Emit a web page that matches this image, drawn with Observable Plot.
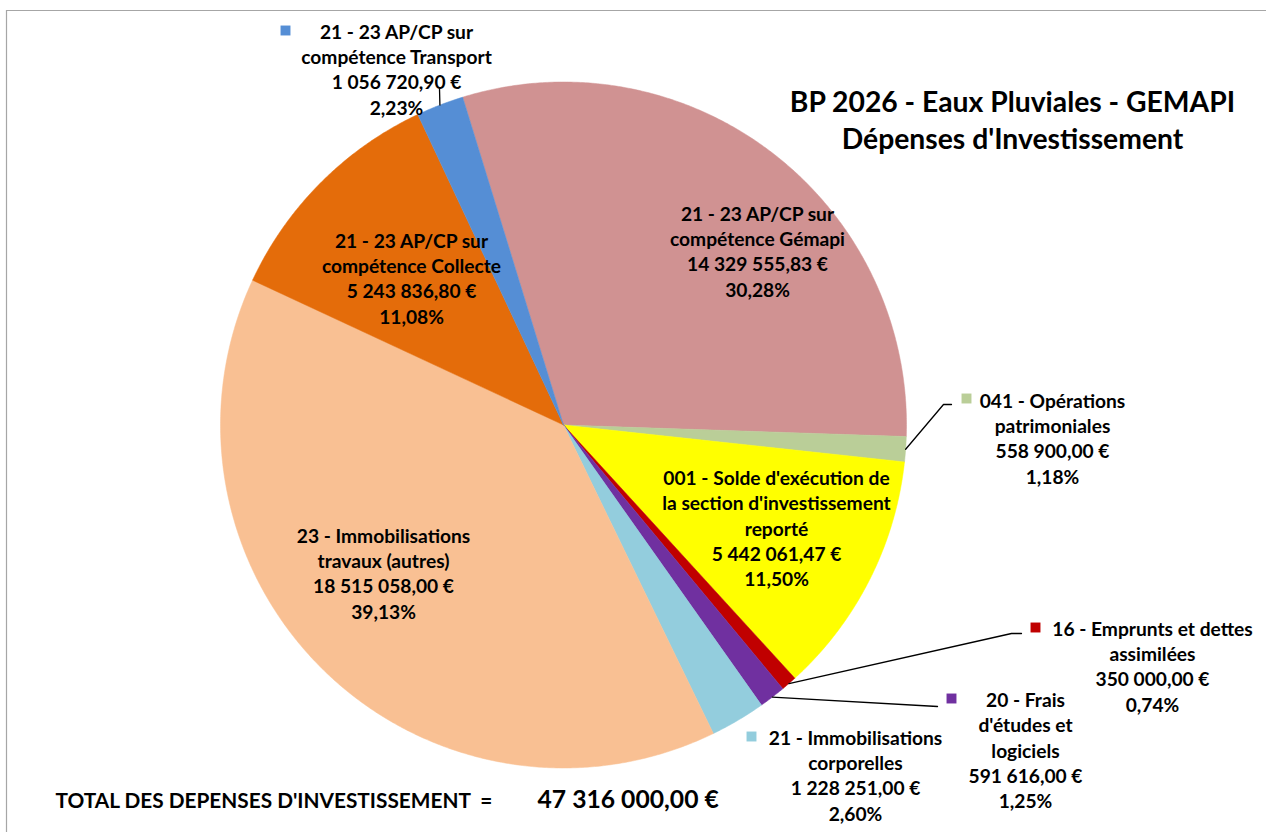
<!DOCTYPE html>
<html><head><meta charset="utf-8">
<script src="https://cdn.jsdelivr.net/npm/d3@7"></script>
<script src="https://cdn.jsdelivr.net/npm/@observablehq/plot@0.6"></script>
<style>body{margin:0;background:#fff} #chart svg{display:block}</style>
</head><body><div id="chart"></div>
<script>
// ---- data ----
const categories = ["gemapi","041","001","16","20","21","23","collecte","transport"];
const nameLines = [
  ["21 - 23 AP/CP sur","compétence Gémapi"],
  ["041 - Opérations","patrimoniales"],
  ["001 - Solde d'exécution de","la section d'investissement","reporté"],
  ["16 - Emprunts et dettes","assimilées"],
  ["20 - Frais","d'études et","logiciels"],
  ["21 - Immobilisations","corporelles"],
  ["23 - Immobilisations","travaux (autres)"],
  ["21 - 23 AP/CP sur","compétence Collecte"],
  ["21 - 23 AP/CP sur","compétence Transport"]
];
const values = [14329555.83, 558900.00, 5442061.47, 350000.00, 591616.00, 1228251.00, 18515058.00, 5243836.80, 1056720.90];
const colors = ["#D09292","#BACE98","#FFFF00","#C00000","#7030A0","#93CDDD","#F9C093","#E46C0A","#558ED5"];
const titleLines = ["BP 2026 - Eaux Pluviales - GEMAPI","Dépenses d'Investissement"];
const totalLabel = "TOTAL DES DEPENSES D'INVESTISSEMENT \u00a0=";

// ---- layout (positions kept separate from data) ----
const pie = {cx: 563, cy: 424.5, r: 343, startDeg: -17.1};
const labelLayout = [
  {cat:"gemapi", x:757, y:250},
  {cat:"041", x:1052, y:437, key:[966,398], leader:[[943,404],[951,404]]},
  {cat:"001", x:776, y:527},
  {cat:"16", x:1152, y:665, key:[1035,627], leader:[[1011,633],[1021,633]]},
  {cat:"20", x:1025, y:749, key:[951,698], leader:[[937,706]]},
  {cat:"21", x:855, y:774, key:[751,736]},
  {cat:"23", x:383, y:572},
  {cat:"collecte", x:411, y:277},
  {cat:"transport", x:396, y:68, key:[285,30], leader:[[439,88]]}
];

// ---- derived ----
const total = d3.sum(values);
const fr = d3.formatLocale({decimal:",", thousands:" ", grouping:[3], currency:["","\u00a0€"]});
const fmtMoney = fr.format("$,.2f");
const fmtPct = fr.format(".2f");
const rad = Math.PI/180;
const arcs = d3.pie().sort(null).startAngle(pie.startDeg*rad).endAngle(pie.startDeg*rad + 2*Math.PI)(values);
const px = a => pie.cx + pie.r*Math.sin(a);
const py = a => pie.cy - pie.r*Math.cos(a);

const slicePts = [];
arcs.forEach((a, i) => {
  const cat = categories[i];
  slicePts.push({cat, x: pie.cx, y: pie.cy});
  const n = Math.max(2, Math.ceil((a.endAngle - a.startAngle)/(0.4*rad)));
  for (let k = 0; k <= n; k++) {
    const t = a.startAngle + (a.endAngle - a.startAngle)*k/n;
    slicePts.push({cat, x: px(t), y: py(t)});
  }
  slicePts.push({cat, x: pie.cx, y: pie.cy});
});

const labels = labelLayout.map(l => {
  const i = categories.indexOf(l.cat);
  return {cat: l.cat, x: l.x, y: l.y,
    text: [...nameLines[i], fmtMoney(values[i]), fmtPct(values[i]/total*100) + "%"].join("\n")};
});
const keys = labelLayout.filter(l => l.key).map(l => ({cat: l.cat, x: l.key[0], y: l.key[1]}));
const leaderPts = [];
labelLayout.filter(l => l.leader).forEach(l => {
  const a = arcs[categories.indexOf(l.cat)];
  const m = (a.startAngle + a.endAngle)/2;
  leaderPts.push({cat: l.cat, x: px(m), y: py(m)});
  l.leader.forEach(p => leaderPts.push({cat: l.cat, x: p[0], y: p[1]}));
});

const font = "Lato, 'Open Sans', sans-serif";
const chart = Plot.plot({
  width: 1266, height: 832,
  marginTop: 0, marginLeft: 0, marginRight: 0, marginBottom: 0,
  x: {domain: [0, 1266], range: [0, 1266], axis: null},
  y: {domain: [0, 832], range: [0, 832], axis: null},
  color: {domain: categories, range: colors},
  style: {fontFamily: font, background: "#fff"},
  marks: [
    Plot.ruleY([10], {x1: 6, x2: 1266, stroke: "#a6a6a6", strokeWidth: 1.2}),
    Plot.ruleX([6], {y1: 10, y2: 832, stroke: "#a6a6a6", strokeWidth: 1.2}),
    Plot.line(slicePts, {x: "x", y: "y", z: "cat", fill: "cat", stroke: "cat", strokeWidth: 0.5, curve: "linear"}),
    Plot.line(leaderPts, {x: "x", y: "y", z: "cat", stroke: "#000", strokeWidth: 1.3, curve: "linear"}),
    Plot.dot(keys, {x: "x", y: "y", fill: "cat", symbol: "square", r: 5.6, stroke: null}),
    Plot.text(labels, {x: "x", y: "y", text: "text", fontSize: 19.2, fontWeight: "bold", lineHeight: 1.32, fill: "#000", fontFamily: font}),
    Plot.text([titleLines.join("\n")], {x: 1012, y: 118.5, text: d => d, fontSize: 28.3, fontWeight: "bold", lineHeight: 1.31, fill: "#000", fontFamily: font}),
    Plot.text([totalLabel], {x: 55, y: 801, text: d => d, textAnchor: "start", fontSize: 20.8, fontWeight: "bold", fill: "#000", fontFamily: font}),
    Plot.text([fmtMoney(total)], {x: 537, y: 800, text: d => d, textAnchor: "start", fontSize: 24.7, fontWeight: "bold", fill: "#000", fontFamily: font})
  ]
});
document.getElementById("chart").appendChild(chart);
</script>
</body></html>
